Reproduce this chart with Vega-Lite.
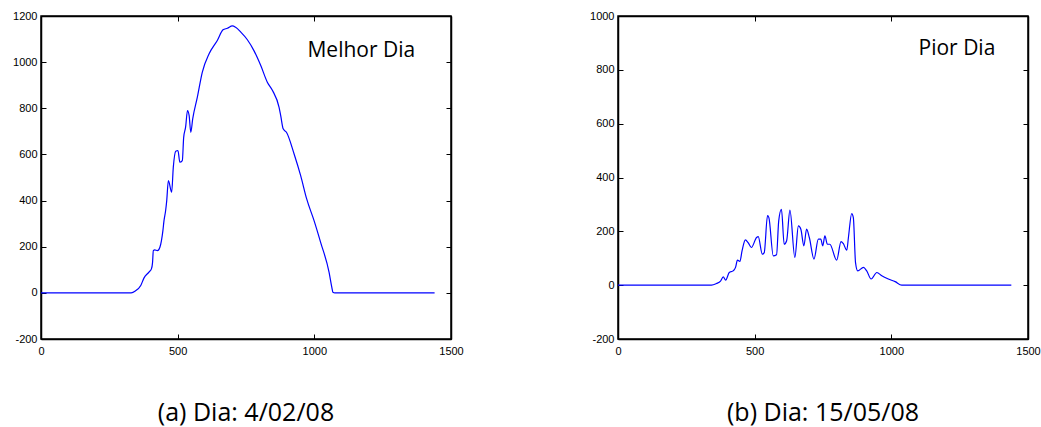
{
  "$schema": "https://vega.github.io/schema/vega-lite/v6.json",
  "padding": {"left": 0, "top": 9, "right": 0, "bottom": 0},
  "spacing": 113,
  "background": "white",
  "config": {
    "view": {"stroke": "black", "strokeWidth": 1.5},
    "axis": {
      "grid": false,
      "domain": true,
      "domainColor": "black",
      "domainWidth": 1.5,
      "tickColor": "black",
      "tickWidth": 1,
      "tickSize": -5,
      "labelFont": "Liberation Sans",
      "labelFontSize": 11,
      "labelColor": "black",
      "labelFlush": false,
      "labelOverlap": false,
      "labelExpr": "'' + datum.value",
      "title": null
    },
    "title": {"font": "Open Sans", "fontSize": 25, "fontWeight": "normal", "color": "black"}
  },
  "datasets": {
    "melhor": [
      {"t": 0, "v": 0}, {"t": 330, "v": 0}, {"t": 345, "v": 8}, {"t": 365, "v": 32}, {"t": 377, "v": 65},
      {"t": 395, "v": 90}, {"t": 404, "v": 104}, {"t": 408, "v": 130}, {"t": 411, "v": 183}, {"t": 416, "v": 186},
      {"t": 426, "v": 183}, {"t": 435, "v": 198}, {"t": 446, "v": 270}, {"t": 450, "v": 313}, {"t": 456, "v": 357},
      {"t": 460, "v": 400}, {"t": 466, "v": 487}, {"t": 478, "v": 436}, {"t": 484, "v": 544}, {"t": 493, "v": 614},
      {"t": 501, "v": 617}, {"t": 508, "v": 566}, {"t": 517, "v": 573}, {"t": 522, "v": 674}, {"t": 529, "v": 718},
      {"t": 536, "v": 790}, {"t": 542, "v": 768}, {"t": 548, "v": 696}, {"t": 555, "v": 754}, {"t": 572, "v": 848},
      {"t": 590, "v": 956}, {"t": 615, "v": 1036}, {"t": 645, "v": 1094}, {"t": 666, "v": 1140}, {"t": 682, "v": 1147},
      {"t": 700, "v": 1157}, {"t": 712, "v": 1151}, {"t": 731, "v": 1130}, {"t": 755, "v": 1097}, {"t": 779, "v": 1050},
      {"t": 804, "v": 985}, {"t": 828, "v": 913}, {"t": 847, "v": 877}, {"t": 871, "v": 804}, {"t": 877, "v": 768},
      {"t": 886, "v": 711}, {"t": 898, "v": 696}, {"t": 926, "v": 602}, {"t": 950, "v": 508}, {"t": 972, "v": 407},
      {"t": 999, "v": 313}, {"t": 1023, "v": 219}, {"t": 1054, "v": 89}, {"t": 1064, "v": 24}, {"t": 1068, "v": 3},
      {"t": 1075, "v": 0}, {"t": 1440, "v": 0}
    ],
    "pior": [
      {"t": 0, "v": 0}, {"t": 342, "v": 0}, {"t": 360, "v": 6}, {"t": 375, "v": 15}, {"t": 385, "v": 31},
      {"t": 394, "v": 19}, {"t": 407, "v": 47}, {"t": 421, "v": 53}, {"t": 430, "v": 66}, {"t": 437, "v": 93},
      {"t": 446, "v": 88}, {"t": 454, "v": 128}, {"t": 466, "v": 168}, {"t": 476, "v": 158}, {"t": 488, "v": 140},
      {"t": 507, "v": 177}, {"t": 513, "v": 180}, {"t": 528, "v": 115}, {"t": 535, "v": 121}, {"t": 547, "v": 258},
      {"t": 552, "v": 251}, {"t": 568, "v": 109}, {"t": 580, "v": 113}, {"t": 588, "v": 239}, {"t": 598, "v": 282},
      {"t": 608, "v": 152}, {"t": 617, "v": 165}, {"t": 629, "v": 279}, {"t": 647, "v": 103}, {"t": 660, "v": 220},
      {"t": 669, "v": 208}, {"t": 680, "v": 146}, {"t": 690, "v": 208}, {"t": 700, "v": 177}, {"t": 717, "v": 97},
      {"t": 733, "v": 171}, {"t": 742, "v": 171}, {"t": 749, "v": 146}, {"t": 757, "v": 183}, {"t": 766, "v": 152},
      {"t": 775, "v": 152}, {"t": 800, "v": 93}, {"t": 816, "v": 162}, {"t": 824, "v": 155}, {"t": 837, "v": 130},
      {"t": 843, "v": 177}, {"t": 855, "v": 266}, {"t": 861, "v": 251}, {"t": 869, "v": 84}, {"t": 877, "v": 53},
      {"t": 898, "v": 66}, {"t": 910, "v": 53}, {"t": 926, "v": 23}, {"t": 947, "v": 47}, {"t": 965, "v": 35},
      {"t": 989, "v": 23}, {"t": 1014, "v": 13}, {"t": 1038, "v": 0}, {"t": 1439, "v": 0}
    ]
  },
  "hconcat": [
    {
      "width": 410,
      "height": 323,
      "title": {"text": "(a) Dia: 4/02/08", "orient": "bottom", "baseline": "alphabetic", "offset": 62},
      "resolve": {"axis": {"x": "independent", "y": "independent"}},
      "layer": [
        {
          "data": {"name": "melhor"},
          "mark": {"type": "line", "color": "#0000ff", "strokeWidth": 1.2, "interpolate": "monotone"},
          "encoding": {
            "x": {"field": "t", "type": "quantitative", "scale": {"domain": [0, 1500], "nice": false, "zero": false},
                  "axis": {"orient": "bottom", "values": [0, 500, 1000, 1500], "labelPadding": 11, "minExtent": 20, "maxExtent": 20}},
            "y": {"field": "v", "type": "quantitative", "scale": {"domain": [-200, 1200], "nice": false, "zero": false},
                  "axis": {"orient": "left", "values": [-200, 0, 200, 400, 600, 800, 1000, 1200], "labelPadding": 9, "minExtent": 40, "maxExtent": 40}}
          }
        },
        {
          "data": {"values": [{"label": "Melhor Dia"}]},
          "mark": {"type": "text", "font": "Open Sans", "fontSize": 21, "align": "center", "baseline": "alphabetic", "color": "black"},
          "encoding": {
            "text": {"field": "label"},
            "x": {"datum": 1172, "type": "quantitative",
                  "axis": {"orient": "top", "values": [0, 500, 1000, 1500], "labels": false, "minExtent": 0, "maxExtent": 0}},
            "y": {"datum": 1024, "type": "quantitative",
                  "axis": {"orient": "right", "values": [-200, 0, 200, 400, 600, 800, 1000, 1200], "labels": false, "minExtent": 0, "maxExtent": 0}}
          }
        }
      ]
    },
    {
      "width": 410,
      "height": 323,
      "title": {"text": "(b) Dia: 15/05/08", "orient": "bottom", "baseline": "alphabetic", "offset": 62},
      "resolve": {"axis": {"x": "independent", "y": "independent"}},
      "layer": [
        {
          "data": {"name": "pior"},
          "mark": {"type": "line", "color": "#0000ff", "strokeWidth": 1.2, "interpolate": "monotone"},
          "encoding": {
            "x": {"field": "t", "type": "quantitative", "scale": {"domain": [0, 1500], "nice": false, "zero": false},
                  "axis": {"orient": "bottom", "values": [0, 500, 1000, 1500], "labelPadding": 11, "minExtent": 20, "maxExtent": 20}},
            "y": {"field": "v", "type": "quantitative", "scale": {"domain": [-200, 1000], "nice": false, "zero": false},
                  "axis": {"orient": "left", "values": [-200, 0, 200, 400, 600, 800, 1000], "labelPadding": 9, "minExtent": 40, "maxExtent": 40}}
          }
        },
        {
          "data": {"values": [{"label": "Pior Dia"}]},
          "mark": {"type": "text", "font": "Open Sans", "fontSize": 21, "align": "center", "baseline": "alphabetic", "color": "black"},
          "encoding": {
            "text": {"field": "label"},
            "x": {"datum": 1240, "type": "quantitative",
                  "axis": {"orient": "top", "values": [0, 500, 1000, 1500], "labels": false, "minExtent": 0, "maxExtent": 0}},
            "y": {"datum": 855, "type": "quantitative",
                  "axis": {"orient": "right", "values": [-200, 0, 200, 400, 600, 800, 1000], "labels": false, "minExtent": 0, "maxExtent": 0}}
          }
        }
      ]
    }
  ]
}
